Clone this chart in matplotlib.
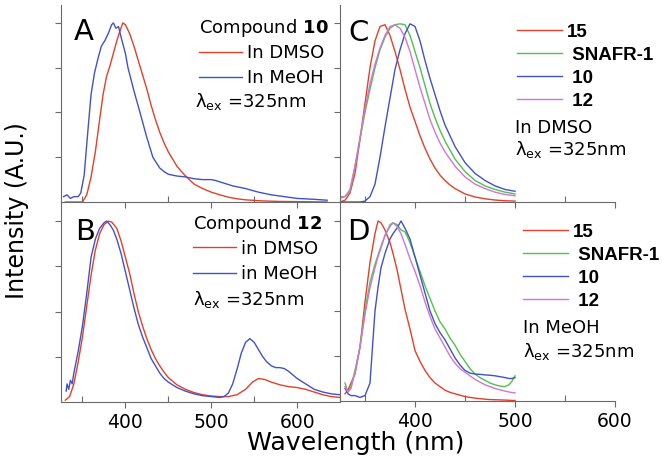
# emission spectra, 4 panels (A-D)
import matplotlib
matplotlib.use('Agg')
import matplotlib.pyplot as plt
from matplotlib.ticker import MultipleLocator

plt.rcParams['font.family'] = ['DejaVu Sans']
plt.rcParams['mathtext.fontset'] = 'dejavusans'

# ---- panel A : compound 10 ----
a_dmso_wl = [330, 340, 350, 355, 360, 365, 370, 374, 378, 382, 386, 390, 394, 397, 400, 405, 410,
             415, 420, 425, 430, 435, 440, 445, 450, 455, 460, 470, 480, 490, 500, 510, 520, 530,
             540, 560, 580, 600, 635]
a_dmso_int = [0.0, 0.0, 0.0, 0.04, 0.14, 0.28, 0.46, 0.6, 0.7, 0.76, 0.83, 0.9, 0.96, 1.0, 0.99, 0.94, 0.87,
              0.79, 0.71, 0.63, 0.54, 0.46, 0.39, 0.33, 0.28, 0.24, 0.2, 0.145, 0.1, 0.075, 0.055, 0.04, 0.027, 0.018,
              0.012, 0.006, 0.003, 0.002, 0.0]
a_meoh_wl = [328, 332, 336, 340, 345, 348, 352, 356, 360, 364, 368, 372, 376, 380, 384, 386, 389, 392,
             395, 400, 403, 410, 417, 425, 432, 440, 445, 450, 460, 470, 480, 490, 500, 505, 515, 525,
             540, 555, 570, 585, 600, 620, 635]
a_meoh_int = [0.03, 0.04, 0.02, 0.03, 0.03, 0.05, 0.15, 0.38, 0.6, 0.72, 0.8, 0.87, 0.9, 0.94, 0.99, 1.0, 0.97, 0.98,
              0.92, 0.83, 0.75, 0.62, 0.5, 0.36, 0.25, 0.19, 0.17, 0.155, 0.145, 0.14, 0.13, 0.125, 0.125, 0.12, 0.105, 0.09,
              0.075, 0.055, 0.04, 0.03, 0.02, 0.015, 0.01]

# ---- panel B : compound 12 ----
b_dmso_wl = [330, 335, 340, 345, 350, 355, 360, 365, 370, 375, 380, 384, 390, 395, 400, 405, 410, 415,
             420, 425, 430, 435, 440, 445, 450, 460, 470, 480, 490, 500, 510, 520, 530, 540, 548, 555,
             562, 570, 580, 590, 600, 610, 620, 630, 640, 650]
b_dmso_int = [0.01, 0.03, 0.1, 0.22, 0.36, 0.53, 0.7, 0.84, 0.93, 0.98, 1.0, 0.995, 0.96, 0.89, 0.8, 0.71, 0.6, 0.5,
              0.42, 0.35, 0.29, 0.24, 0.2, 0.165, 0.135, 0.095, 0.07, 0.052, 0.04, 0.033, 0.03, 0.03, 0.04, 0.07, 0.11, 0.13,
              0.125, 0.11, 0.095, 0.085, 0.08, 0.07, 0.055, 0.04, 0.03, 0.025]
b_meoh_wl = [331, 332, 334, 336, 338, 340, 345, 350, 355, 360, 365, 370, 375, 378, 382, 386, 390, 395,
             400, 405, 410, 415, 420, 425, 430, 435, 440, 445, 450, 460, 470, 480, 490, 500, 510, 515,
             520, 525, 530, 535, 540, 545, 550, 555, 560, 565, 570, 575, 580, 585, 590, 595, 600, 610,
             620, 630, 640, 650]
b_meoh_int = [0.06, 0.1, 0.07, 0.12, 0.1, 0.16, 0.28, 0.42, 0.6, 0.8, 0.9, 0.96, 0.99, 1.0, 0.98, 0.95, 0.9, 0.82,
              0.72, 0.62, 0.52, 0.43, 0.36, 0.3, 0.24, 0.2, 0.16, 0.13, 0.11, 0.08, 0.06, 0.045, 0.035, 0.03, 0.025, 0.03,
              0.05, 0.1, 0.18, 0.27, 0.33, 0.35, 0.33, 0.29, 0.25, 0.22, 0.2, 0.19, 0.19, 0.185, 0.17, 0.15, 0.13, 0.1,
              0.07, 0.055, 0.045, 0.04]

# ---- panel C : in DMSO ----
c_wl = [325, 330, 335, 340, 345, 350, 355, 360, 365, 370, 375, 380, 385, 390, 395, 400, 405, 410, 415,
        420, 425, 430, 435, 440, 450, 460, 470, 480, 490, 500]
c_15 = [0.0, 0.01, 0.05, 0.16, 0.35, 0.55, 0.75, 0.9, 0.98, 0.99, 0.93, 0.84, 0.74, 0.63, 0.53, 0.45, 0.37, 0.3, 0.24,
        0.19, 0.15, 0.12, 0.095, 0.075, 0.045, 0.028, 0.018, 0.011, 0.007, 0.005]
c_snafr = [0.03, 0.03, 0.06, 0.2, 0.35, 0.5, 0.63, 0.75, 0.85, 0.92, 0.97, 0.99, 0.995, 0.99, 0.93, 0.84, 0.75, 0.65, 0.55,
           0.47, 0.4, 0.34, 0.29, 0.24, 0.17, 0.12, 0.09, 0.07, 0.055, 0.045]
c_10 = [0.0, 0.0, 0.0, 0.0, 0.0, 0.005, 0.03, 0.1, 0.25, 0.42, 0.58, 0.74, 0.85, 0.94, 0.995, 0.98, 0.9, 0.79, 0.69,
        0.6, 0.51, 0.43, 0.37, 0.31, 0.22, 0.16, 0.12, 0.09, 0.07, 0.06]
c_12 = [0.02, 0.03, 0.07, 0.2, 0.36, 0.52, 0.66, 0.77, 0.86, 0.93, 0.98, 0.99, 0.97, 0.92, 0.84, 0.74, 0.64, 0.55, 0.46,
        0.39, 0.33, 0.28, 0.24, 0.2, 0.14, 0.1, 0.075, 0.055, 0.042, 0.035]

# ---- panel D : in MeOH ----
d_wl = [330, 333, 336, 340, 345, 350, 355, 360, 363, 366, 370, 375, 378, 382, 386, 390, 395, 400, 405,
        410, 415, 420, 425, 430, 435, 440, 445, 450, 455, 460, 465, 470, 475, 480, 485, 490, 494,
        497, 500]
d_15 = [0.04, 0.06, 0.1, 0.15, 0.3, 0.55, 0.77, 0.93, 1.0, 0.99, 0.95, 0.88, 0.82, 0.73, 0.62, 0.51, 0.4, 0.28, 0.22,
        0.17, 0.13, 0.1, 0.08, 0.06, 0.048, 0.04, 0.032, 0.025, 0.02, 0.016, 0.013, 0.01, 0.008, 0.007, 0.006, 0.005, 0.004,
        0.003, 0.003]
d_snafr = [0.1, 0.05, 0.08, 0.17, 0.3, 0.5, 0.66, 0.76, 0.81, 0.86, 0.92, 0.97, 0.99, 0.98, 0.95, 0.94, 0.88, 0.8, 0.72,
           0.64, 0.57, 0.5, 0.44, 0.4, 0.35, 0.31, 0.26, 0.22, 0.18, 0.15, 0.13, 0.115, 0.1, 0.09, 0.083, 0.08, 0.09,
           0.11, 0.14]
d_10 = [0.07, 0.04, 0.03, 0.03, 0.02, 0.03, 0.1, 0.5, 0.63, 0.74, 0.82, 0.9, 0.93, 0.96, 1.0, 0.96, 0.9, 0.8, 0.7,
        0.6, 0.5, 0.43, 0.38, 0.34, 0.29, 0.24, 0.2, 0.17, 0.155, 0.15, 0.148, 0.145, 0.143, 0.14, 0.135, 0.13, 0.125,
        0.125, 0.13]
d_12 = [0.08, 0.05, 0.07, 0.16, 0.3, 0.48, 0.63, 0.74, 0.8, 0.85, 0.92, 0.98, 0.99, 0.97, 0.93, 0.87, 0.79, 0.72, 0.64,
        0.55, 0.47, 0.4, 0.35, 0.3, 0.25, 0.21, 0.18, 0.16, 0.14, 0.12, 0.105, 0.09, 0.08, 0.07, 0.062, 0.055, 0.05,
        0.047, 0.045]

RED = '#e2402a'
BLUE = '#4152c8'
GREEN = '#4ec24a'
MAG = '#d275d6'
AXC = '#6a6a6a'
LAM = r'$\mathregular{\lambda_{ex}}$ =325nm'

fig = plt.figure(figsize=(6.62, 4.62), dpi=100)
W, H = 662.0, 462.0
axA = fig.add_axes([61 / W, (H - 202) / H, 279 / W, 197 / H])
axB = fig.add_axes([61 / W, (H - 402) / H, 279 / W, 199 / H])
axC = fig.add_axes([340 / W, (H - 202) / H, 275 / W, 197 / H])
axD = fig.add_axes([340 / W, (H - 401) / H, 275 / W, 198 / H])


def style(ax, xmax, labels):
    ax.set_xlim(325, xmax)
    ax.set_ylim(0, 1.1)
    ax.patch.set_alpha(0)
    for s in ['top', 'right']:
        ax.spines[s].set_visible(False)
    for s in ['left', 'bottom']:
        ax.spines[s].set_color(AXC)
        ax.spines[s].set_linewidth(0.8)
    ax.xaxis.set_major_locator(MultipleLocator(100))
    ax.xaxis.set_minor_locator(MultipleLocator(50))
    ax.set_yticks([0.25, 0.5, 0.75, 1.0])
    ax.set_yticklabels([])
    ax.tick_params(axis='x', which='major', direction='out', length=4, width=0.8, color=AXC,
                   labelsize=13.5, pad=4)
    ax.tick_params(axis='x', which='minor', direction='in', length=4, width=0.8, color=AXC)
    ax.tick_params(axis='y', direction='out', length=4, width=0.8, color=AXC)
    if not labels:
        ax.tick_params(axis='x', labelbottom=False)


def legend(ax, handles, labels, anchor, spacing, bold=False):
    if bold:
        prop = {'family': 'Liberation Sans', 'size': 13.5, 'weight': 'bold'}
    else:
        prop = {'size': 13}
    ax.legend(handles, labels, loc='upper left', bbox_to_anchor=anchor, frameon=False,
              borderpad=0, borderaxespad=0, handlelength=2.4, handletextpad=0.25,
              labelspacing=spacing, prop=prop)


# A
style(axA, 650, False)
la1, = axA.plot(a_dmso_wl, a_dmso_int, color=RED, lw=1.0)
la2, = axA.plot(a_meoh_wl, a_meoh_int, color=BLUE, lw=1.0)
legend(axA, [la1, la2], ['In DMSO', 'In MeOH'], (0.495, 0.80), 0.39)
axA.text(0.495, 0.858, r'Compound $\mathbf{10}$', transform=axA.transAxes, fontsize=13, va='baseline')
axA.text(0.48, 0.482, LAM, transform=axA.transAxes, fontsize=13, va='baseline')
axA.text(0.082, 0.863, 'A', transform=axA.transAxes, fontsize=21, ha='center', va='center')

# B
style(axB, 650, True)
lb1, = axB.plot(b_dmso_wl, b_dmso_int, color=RED, lw=1.0)
lb2, = axB.plot(b_meoh_wl, b_meoh_int, color=BLUE, lw=1.0)
legend(axB, [lb1, lb2], ['in DMSO', 'in MeOH'], (0.473, 0.815), 0.39)
axB.text(0.473, 0.867, r'Compound $\mathbf{12}$', transform=axB.transAxes, fontsize=13, va='baseline')
axB.text(0.473, 0.487, LAM, transform=axB.transAxes, fontsize=13, va='baseline')
axB.text(0.086, 0.854, 'B', transform=axB.transAxes, fontsize=21, ha='center', va='center')

# C
style(axC, 600, False)
hc = [axC.plot(c_wl, c_15, color=RED, lw=1.0)[0],
      axC.plot(c_wl, c_snafr, color=GREEN, lw=1.0)[0],
      axC.plot(c_wl, c_10, color=BLUE, lw=1.0)[0],
      axC.plot(c_wl, c_12, color=MAG, lw=1.0)[0]]
legend(axC, hc, ['15', ' SNAFR-1', ' 10', ' 12'], (0.644, 0.906), 0.32, bold=True)
axC.text(0.636, 0.35, 'In DMSO', transform=axC.transAxes, fontsize=13, va='baseline')
axC.text(0.636, 0.239, LAM, transform=axC.transAxes, fontsize=13, va='baseline')
axC.text(0.069, 0.858, 'C', transform=axC.transAxes, fontsize=21, ha='center', va='center')

# D
style(axD, 600, True)
hd = [axD.plot(d_wl, d_15, color=RED, lw=1.0)[0],
      axD.plot(d_wl, d_snafr, color=GREEN, lw=1.0)[0],
      axD.plot(d_wl, d_10, color=BLUE, lw=1.0)[0],
      axD.plot(d_wl, d_12, color=MAG, lw=1.0)[0]]
legend(axD, hd, ['15', ' SNAFR-1', ' 10', ' 12'], (0.665, 0.897), 0.32, bold=True)
axD.text(0.665, 0.343, 'In MeOH', transform=axD.transAxes, fontsize=13, va='baseline')
axD.text(0.665, 0.222, LAM, transform=axD.transAxes, fontsize=13, va='baseline')
axD.text(0.065, 0.854, 'D', transform=axD.transAxes, fontsize=21, ha='center', va='center')

fig.text(356 / W, 1 - 443 / H, 'Wavelength (nm)', fontsize=18.2, ha='center', va='center')
fig.text(17 / W, 1 - 211 / H, 'Intensity (A.U.)', fontsize=17, ha='center', va='center', rotation=90)

fig.savefig('out.png', dpi=100)
